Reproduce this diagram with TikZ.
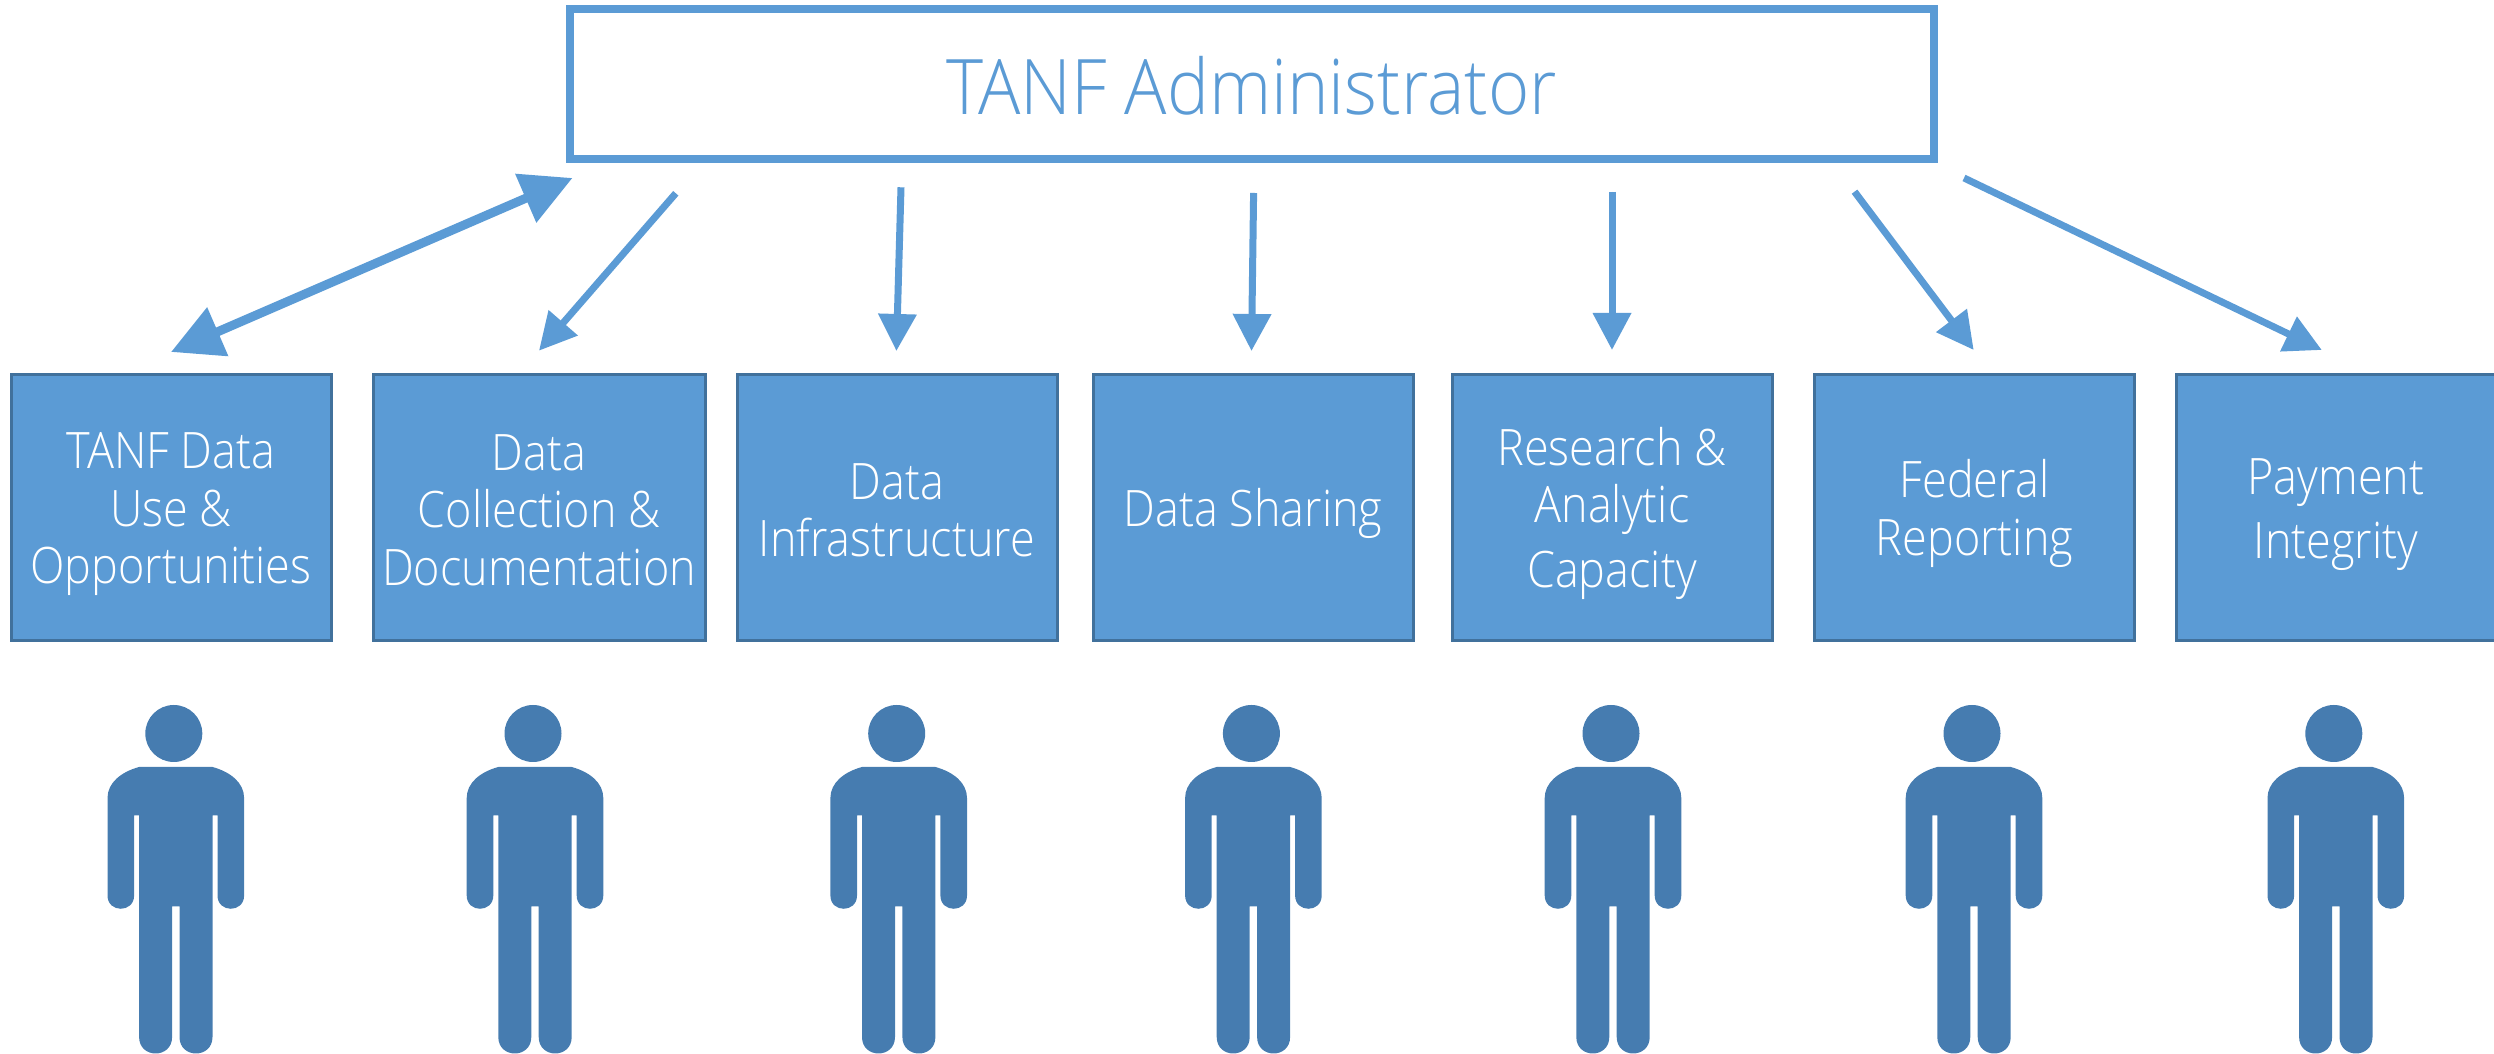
\documentclass[tikz,border=0pt]{standalone}
\usepackage{fontspec}
\setmainfont{Open Sans Light}[FakeStretch=0.895]
\newfontfamily\titlefont{Open Sans Light}[FakeStretch=0.92]
\usetikzlibrary{arrows.meta}
\definecolor{boxblue}{HTML}{5B9BD5}
\definecolor{boxedge}{HTML}{41719C}
\definecolor{personblue}{HTML}{467CB0}
\newcommand\lnst{\rule[-0.85mm]{0pt}{5.7mm}}
\newcommand\ttlst{\rule[-1.06mm]{0pt}{8.26mm}}
\tikzset{
  x=0.1mm,y=-0.1mm,
  titlebox/.style={draw=boxblue,line width=0.8mm,fill=white,text=boxblue,inner sep=0pt,
    minimum width=136.4mm,minimum height=15mm,font=\titlefont\fontsize{21.8pt}{26pt}\selectfont},
  topicbox/.style={draw=boxedge,line width=0.3mm,fill=boxblue,text=white,inner sep=0pt,
    minimum height=26.6mm,align=center,font=\fontsize{14.3pt}{16.4pt}\selectfont},
  thinarrow/.style={draw=boxblue,fill=boxblue,line width=0.7mm,-{Triangle[length=3.7mm,width=3.7mm]}},
  bothways/.style={draw=boxblue,fill=boxblue,line width=0.9mm,{Triangle[length=5.1mm,width=5.1mm]}-{Triangle[length=5.1mm,width=5.1mm]}},
}
\begin{document}
\begin{tikzpicture}
\useasboundingbox (0,0) rectangle (2494,1054);
\node[titlebox] (admin) at (1251.6,84.3) {\ttlst TANF Administrator};
\node[topicbox,minimum width=32mm]   (use)  at (171,508) {\lnst TANF Data\\\lnst Use \&\\\lnst Opportunities};
\node[topicbox,minimum width=33.2mm] (coll) at (539,508) {\lnst Data\\\lnst Collection \&\\\lnst Documentation};
\node[topicbox,minimum width=32mm]   (infr) at (897,508) {\lnst Data\\\lnst Infrastructure};
\node[topicbox,minimum width=32mm]   (shar) at (1253,508) {\lnst Data Sharing};
\node[topicbox,minimum width=32mm]   (rese) at (1612,508) {\lnst Research \&\\\lnst Analytic\\\lnst Capacity};
\node[topicbox,minimum width=32mm]   (fede) at (1974.5,508) {\lnst Federal\\\lnst Reporting};
\node[topicbox,minimum width=32mm]   (paym) at (2336,508) {\lnst Payment\\\lnst Integrity};
% arrow ends
\coordinate (a1s) at (572.5,178); \coordinate (a1e) at (171,352);
\coordinate (a2s) at (675.8,193.3); \coordinate (a2e) at (539,350.7);
\coordinate (a3s) at (901,187.3); \coordinate (a3e) at (896.4,351);
\coordinate (a4s) at (1253.6,193); \coordinate (a4e) at (1251.5,351);
\coordinate (a5s) at (1612,192); \coordinate (a5e) at (1612,350);
\coordinate (a6s) at (1854.5,191.7); \coordinate (a6e) at (1973.7,350);
\coordinate (a7s) at (1964,178); \coordinate (a7e) at (2321.8,350);
\draw[bothways] (a1s) -- (a1e);
\foreach \i in {2,...,7} \draw[thinarrow] (a\i s) -- (a\i e);
% people
\foreach \cx in {175.8,535,898.7,1253.4,1613,1974,2335.8}{
  \begin{scope}[shift={(\cx,0)}]
    \fill[personblue] (-2,733.5) circle[radius=2.85mm];
    \fill[personblue] (-36.7,767) -- (36.7,767)
      .. controls (55,772) and (68.3,783) .. (68.3,798) -- (68.3,895.5)
      .. controls (68.3,913.2) and (41.7,913.2) .. (41.7,895.5) -- (41.7,815.5) -- (36.7,815.5) -- (36.7,1037)
      .. controls (36.7,1059) and (3.7,1059) .. (3.7,1037) -- (3.7,906.5) -- (-3.7,906.5) -- (-3.7,1037)
      .. controls (-3.7,1059) and (-36.7,1059) .. (-36.7,1037) -- (-36.7,815.5) -- (-41.7,815.5) -- (-41.7,895.5)
      .. controls (-41.7,913.2) and (-68.3,913.2) .. (-68.3,895.5) -- (-68.3,798)
      .. controls (-68.3,783) and (-55,772) .. cycle;
  \end{scope}
}
\end{tikzpicture}
\end{document}
